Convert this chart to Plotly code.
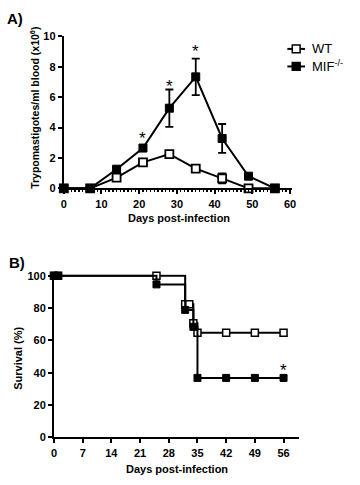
import plotly.graph_objects as go

W, H = 360, 485

# ---------- Panel A data ----------
days_a = [0, 7, 14, 21, 28, 35, 42, 49, 56]
wt_para = [0, 0, 0.71, 1.71, 2.25, 1.3, 0.66, 0, 0]
wt_err = [0, 0, 0.1, 0.1, 0.1, 0.1, 0.33, 0, 0]
mif_para = [0, 0, 1.26, 2.65, 5.27, 7.33, 3.28, 0.8, 0]
mif_err = [0, 0, 0.1, 0.2, 1.23, 1.2, 0.95, 0.05, 0]
star_a_x = [21, 28, 35]
star_a_y = [3.55, 6.98, 9.23]
xticks_a = [0, 10, 20, 30, 40, 50, 60]
yticks_a = [0, 2, 4, 6, 8, 10]

# ---------- Panel B data ----------
wt_days = [0, 1, 25, 32, 33, 34, 35, 42, 49, 56]
wt_surv = [100, 100, 100, 82.4, 82.4, 70.6, 64.7, 64.7, 64.7, 64.7]
mif_days = [0, 1, 25, 32, 34, 35, 42, 49, 56]
mif_surv = [100, 100, 94.7, 78.9, 68.4, 36.8, 36.8, 36.8, 36.8]
star_b_x = [56]
star_b_y = [43.7]
xticks_b = [0, 7, 14, 21, 28, 35, 42, 49, 56]
yticks_b = [0, 20, 40, 60, 80, 100]

FONT = "Liberation Sans, Arial, sans-serif"
BLK = "black"

def px_x(p):
    return p / W

def px_y(p):
    return 1 - p / H

fig = go.Figure()

# Panel A traces
fig.add_trace(go.Scatter(
    x=days_a, y=wt_para, mode="lines+markers", name="WT",
    line=dict(color=BLK, width=2),
    marker=dict(symbol="square", size=8, color="white", line=dict(color=BLK, width=1.8)),
    error_y=dict(type="data", array=wt_err, color=BLK, thickness=1.8, width=4),
    xaxis="x", yaxis="y", cliponaxis=False, showlegend=False))
fig.add_trace(go.Scatter(
    x=days_a, y=mif_para, mode="lines+markers", name="MIF-/-",
    line=dict(color=BLK, width=2),
    marker=dict(symbol="square", size=8, color=BLK, line=dict(color=BLK, width=1)),
    error_y=dict(type="data", array=mif_err, color=BLK, thickness=1.8, width=4),
    xaxis="x", yaxis="y", cliponaxis=False, showlegend=False))

# Panel B traces
fig.add_trace(go.Scatter(
    x=wt_days, y=wt_surv, mode="lines+markers", line_shape="hv",
    line=dict(color=BLK, width=2),
    marker=dict(symbol="square", size=7, color="white", line=dict(color=BLK, width=1.5)),
    xaxis="x2", yaxis="y2", cliponaxis=False, showlegend=False))
fig.add_trace(go.Scatter(
    x=mif_days, y=mif_surv, mode="lines+markers", line_shape="hv",
    line=dict(color=BLK, width=2),
    marker=dict(symbol="square", size=7, color=BLK, line=dict(color=BLK, width=1)),
    xaxis="x2", yaxis="y2", cliponaxis=False, showlegend=False))

annotations = []
for x, y in zip(star_a_x, star_a_y):
    annotations.append(dict(x=x, y=y, xref="x", yref="y", text="*", showarrow=False,
                            font=dict(family=FONT, size=17, color=BLK), yshift=-4))
for x, y in zip(star_b_x, star_b_y):
    annotations.append(dict(x=x, y=y, xref="x2", yref="y2", text="*", showarrow=False,
                            font=dict(family=FONT, size=17, color=BLK), yshift=-4))

tf = dict(family=FONT, size=11, color=BLK, weight="bold")

# Axis titles
annotations += [
    dict(x=px_x(32), y=px_y(104), xref="paper", yref="paper", showarrow=False,
         text="<b>Trypomastigotes/ml blood (x10<sup>6</sup>)</b>", textangle=-90,
         font=dict(family=FONT, size=10.5, color=BLK), xanchor="center", yanchor="middle"),
    dict(x=px_x(179), y=px_y(217), xref="paper", yref="paper", showarrow=False,
         text="<b>Days post-infection</b>", font=dict(family=FONT, size=11, color=BLK),
         xanchor="center", yanchor="middle"),
    dict(x=px_x(15), y=px_y(361), xref="paper", yref="paper", showarrow=False,
         text="<b>Survival (%)</b>", textangle=-90, font=dict(family=FONT, size=11, color=BLK),
         xanchor="center", yanchor="middle"),
    dict(x=px_x(177), y=px_y(475), xref="paper", yref="paper", showarrow=False,
         text="<b>Days post-infection</b>", font=dict(family=FONT, size=11, color=BLK),
         xanchor="center", yanchor="middle"),
    dict(x=px_x(2), y=px_y(13), xref="paper", yref="paper", showarrow=False,
         text="<b>A)</b>", font=dict(family=FONT, size=15, color=BLK),
         xanchor="left", yanchor="middle"),
    dict(x=px_x(4), y=px_y(263), xref="paper", yref="paper", showarrow=False,
         text="<b>B)</b>", font=dict(family=FONT, size=15, color=BLK),
         xanchor="left", yanchor="middle"),
    # legend labels
    dict(x=px_x(313), y=px_y(44), xref="paper", yref="paper", showarrow=False,
         text="WT", font=dict(family=FONT, size=13, color=BLK),
         xanchor="left", yanchor="middle"),
    dict(x=px_x(313), y=px_y(62), xref="paper", yref="paper", showarrow=False,
         text="MIF<sup>-/-</sup>", font=dict(family=FONT, size=13, color=BLK),
         xanchor="left", yanchor="middle"),
]

shapes = []
for yy, fill in [(44, "white"), (62, BLK)]:
    shapes.append(dict(type="line", xref="paper", yref="paper",
                       x0=px_x(290), x1=px_x(308), y0=px_y(yy), y1=px_y(yy),
                       line=dict(color=BLK, width=2)))
    shapes.append(dict(type="rect", xref="paper", yref="paper",
                       x0=px_x(295), x1=px_x(303), y0=px_y(yy - 4), y1=px_y(yy + 4),
                       fillcolor=fill, line=dict(color=BLK, width=1.5)))

axis_common = dict(showline=True, linecolor=BLK, linewidth=2, ticks="outside",
                   tickwidth=2, ticklen=4, tickcolor=BLK, showgrid=False, zeroline=False,
                   tickfont=tf, fixedrange=True)

fig.update_layout(
    width=W, height=H, margin=dict(l=0, r=0, t=0, b=0),
    paper_bgcolor="white", plot_bgcolor="white",
    showlegend=False,
    xaxis=dict(domain=[px_x(62), px_x(295)], range=[0, 60.6], tickvals=xticks_a,
               anchor="y", minor=dict(ticks="outside", dtick=1, ticklen=2, tickwidth=1.5,
                                       tickcolor=BLK, showgrid=False),
               **axis_common),
    yaxis=dict(domain=[px_y(187), px_y(31)], range=[0, 10], tickvals=yticks_a,
               anchor="x", **axis_common),
    xaxis2=dict(domain=[px_x(52), px_x(302)], range=[0, 59.8], tickvals=xticks_b,
                anchor="y2", **axis_common),
    yaxis2=dict(domain=[px_y(442.3), px_y(275)], range=[0, 101], tickvals=yticks_b,
                anchor="x2", **axis_common),
    annotations=annotations, shapes=shapes,
)

fig.write_html("out.html",
               config={"displayModeBar": False, "staticPlot": True},
               post_script="document.body.style.margin='0';document.body.style.overflow='hidden';")
